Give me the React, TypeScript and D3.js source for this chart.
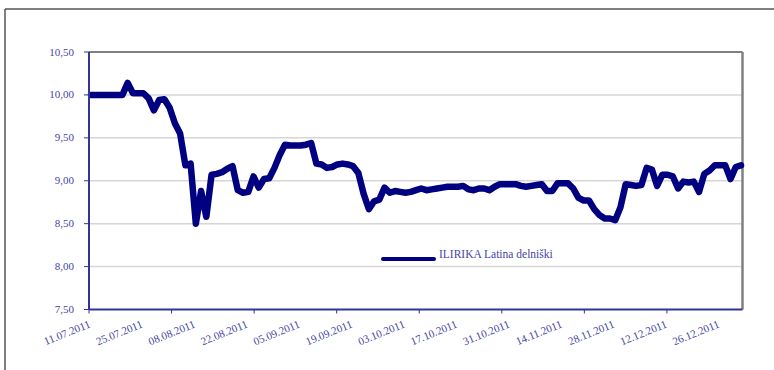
import React from "react";
import * as d3 from "d3";

const SERIES_NAME = "ILIRIKA Latina delniški";

const values: number[] = [
  10.0, 10.0, 10.0, 10.0, 10.0, 10.0, 10.0, 10.14, 10.02, 10.02,
  10.02, 9.96, 9.82, 9.94, 9.95, 9.85, 9.67, 9.55, 9.18, 9.2,
  8.5, 8.88, 8.58, 9.07, 9.08, 9.1, 9.14, 9.17, 8.89, 8.86,
  8.87, 9.05, 8.92, 9.02, 9.03, 9.15, 9.3, 9.42, 9.41, 9.41,
  9.41, 9.42, 9.44, 9.2, 9.19, 9.15, 9.16, 9.19, 9.2, 9.19,
  9.17, 9.09, 8.85, 8.67, 8.76, 8.78, 8.92, 8.86, 8.88, 8.87,
  8.86, 8.87, 8.89, 8.91, 8.89, 8.9, 8.91, 8.92, 8.93, 8.93,
  8.93, 8.94, 8.9, 8.89, 8.91, 8.91, 8.89, 8.93, 8.96, 8.96,
  8.96, 8.96, 8.94, 8.93, 8.94, 8.95, 8.96, 8.88, 8.88, 8.97,
  8.97, 8.97, 8.91, 8.8, 8.77, 8.77, 8.67, 8.6, 8.56, 8.56,
  8.54, 8.69, 8.96, 8.95, 8.94, 8.95, 9.15, 9.13, 8.94, 9.07,
  9.07, 9.05, 8.91, 8.99, 8.98, 8.99, 8.87, 9.08, 9.12, 9.18,
  9.18, 9.18, 9.02, 9.16, 9.18,
];

const xLabels: string[] = [
  "11.07.2011", "25.07.2011", "08.08.2011", "22.08.2011", "05.09.2011",
  "19.09.2011", "03.10.2011", "17.10.2011", "31.10.2011", "14.11.2011",
  "28.11.2011", "12.12.2011", "26.12.2011",
];
const LABEL_EVERY = 10;
const TICK_EVERY = 15.75;

const yTicks: number[] = [7.5, 8.0, 8.5, 9.0, 9.5, 10.0, 10.5];

export default function App() {
  const W = 774;
  const H = 370;
  const left = 89;
  const right = 742.5;
  const top = 52;
  const bottom = 309.5;

  const x = d3.scaleLinear().domain([0, values.length - 1]).range([91, 741]);
  const y = d3.scaleLinear().domain([7.5, 10.5]).range([bottom, top]);

  const line = d3
    .line<number>()
    .x((_, i) => x(i))
    .y((d) => y(d))
    .curve(d3.curveLinear);

  const fmt = (v: number) => v.toFixed(2).replace(".", ",");
  const axisColor = "#333399";
  const textColor = "#4444a6";
  const font = "'Liberation Serif', 'DejaVu Serif', serif";

  const tickIdx: number[] = d3.range(0, values.length - 1, TICK_EVERY);

  return (
    <div style={{ position: "absolute", left: 0, top: 0, width: W, height: H, overflow: "hidden" }}>
      <svg width={W} height={H} style={{ display: "block", background: "#fff" }}>
        <line x1={5} x2={W} y1={9} y2={9} stroke="#555" strokeWidth={1.5} />
        <line x1={5} x2={5} y1={9} y2={H} stroke="#555" strokeWidth={1.5} />

        {/* gridlines */}
        {yTicks.slice(1, -1).map((t) => (
          <line key={t} x1={left} x2={right} y1={y(t)} y2={y(t)} stroke="#d6d6d6" strokeWidth={1.5} />
        ))}

        {/* plot area border top/right */}
        <line x1={left} x2={right} y1={top} y2={top} stroke="#808080" strokeWidth={2} />
        <line x1={right} x2={right} y1={top} y2={bottom} stroke="#808080" strokeWidth={2.5} />

        {/* data line */}
        <path
          d={line(values) || ""}
          fill="none"
          stroke="#000080"
          strokeWidth={6.5}
          strokeLinejoin="round"
          strokeLinecap="round"
        />

        {/* axes */}
        <line x1={left} x2={left} y1={top} y2={bottom} stroke={axisColor} strokeWidth={2} />
        <line x1={left} x2={right} y1={bottom} y2={bottom} stroke={axisColor} strokeWidth={2} />

        {yTicks.map((t) => (
          <g key={t}>
            <line x1={left - 5} x2={left} y1={y(t)} y2={y(t)} stroke={axisColor} strokeWidth={1} />
            <text
              x={74}
              y={y(t) + 3.5}
              textAnchor="end"
              fontFamily={font}
              fontSize={11}
              fill={textColor}
            >
              {fmt(t)}
            </text>
          </g>
        ))}

        {tickIdx.map((i) => (
          <line
            key={i}
            x1={x(i) - 2}
            x2={x(i) - 2}
            y1={bottom}
            y2={bottom + 4}
            stroke={axisColor}
            strokeWidth={1}
          />
        ))}

        {xLabels.map((lab, k) => {
          const xi = x(k * LABEL_EVERY);
          return (
            <text
              key={lab}
              transform={`translate(${xi},${327}) rotate(-22)`}
              textAnchor="end"
              fontFamily={font}
              fontSize={11}
              fill={textColor}
            >
              {lab}
            </text>
          );
        })}

        {/* legend */}
        <line x1={383} x2={434} y1={259} y2={259} stroke="#000080" strokeWidth={4} strokeLinecap="round" />
        <text x={439} y={258} fontFamily={font} fontSize={11.5} fill={textColor}>
          {SERIES_NAME}
        </text>
      </svg>
    </div>
  );
}
